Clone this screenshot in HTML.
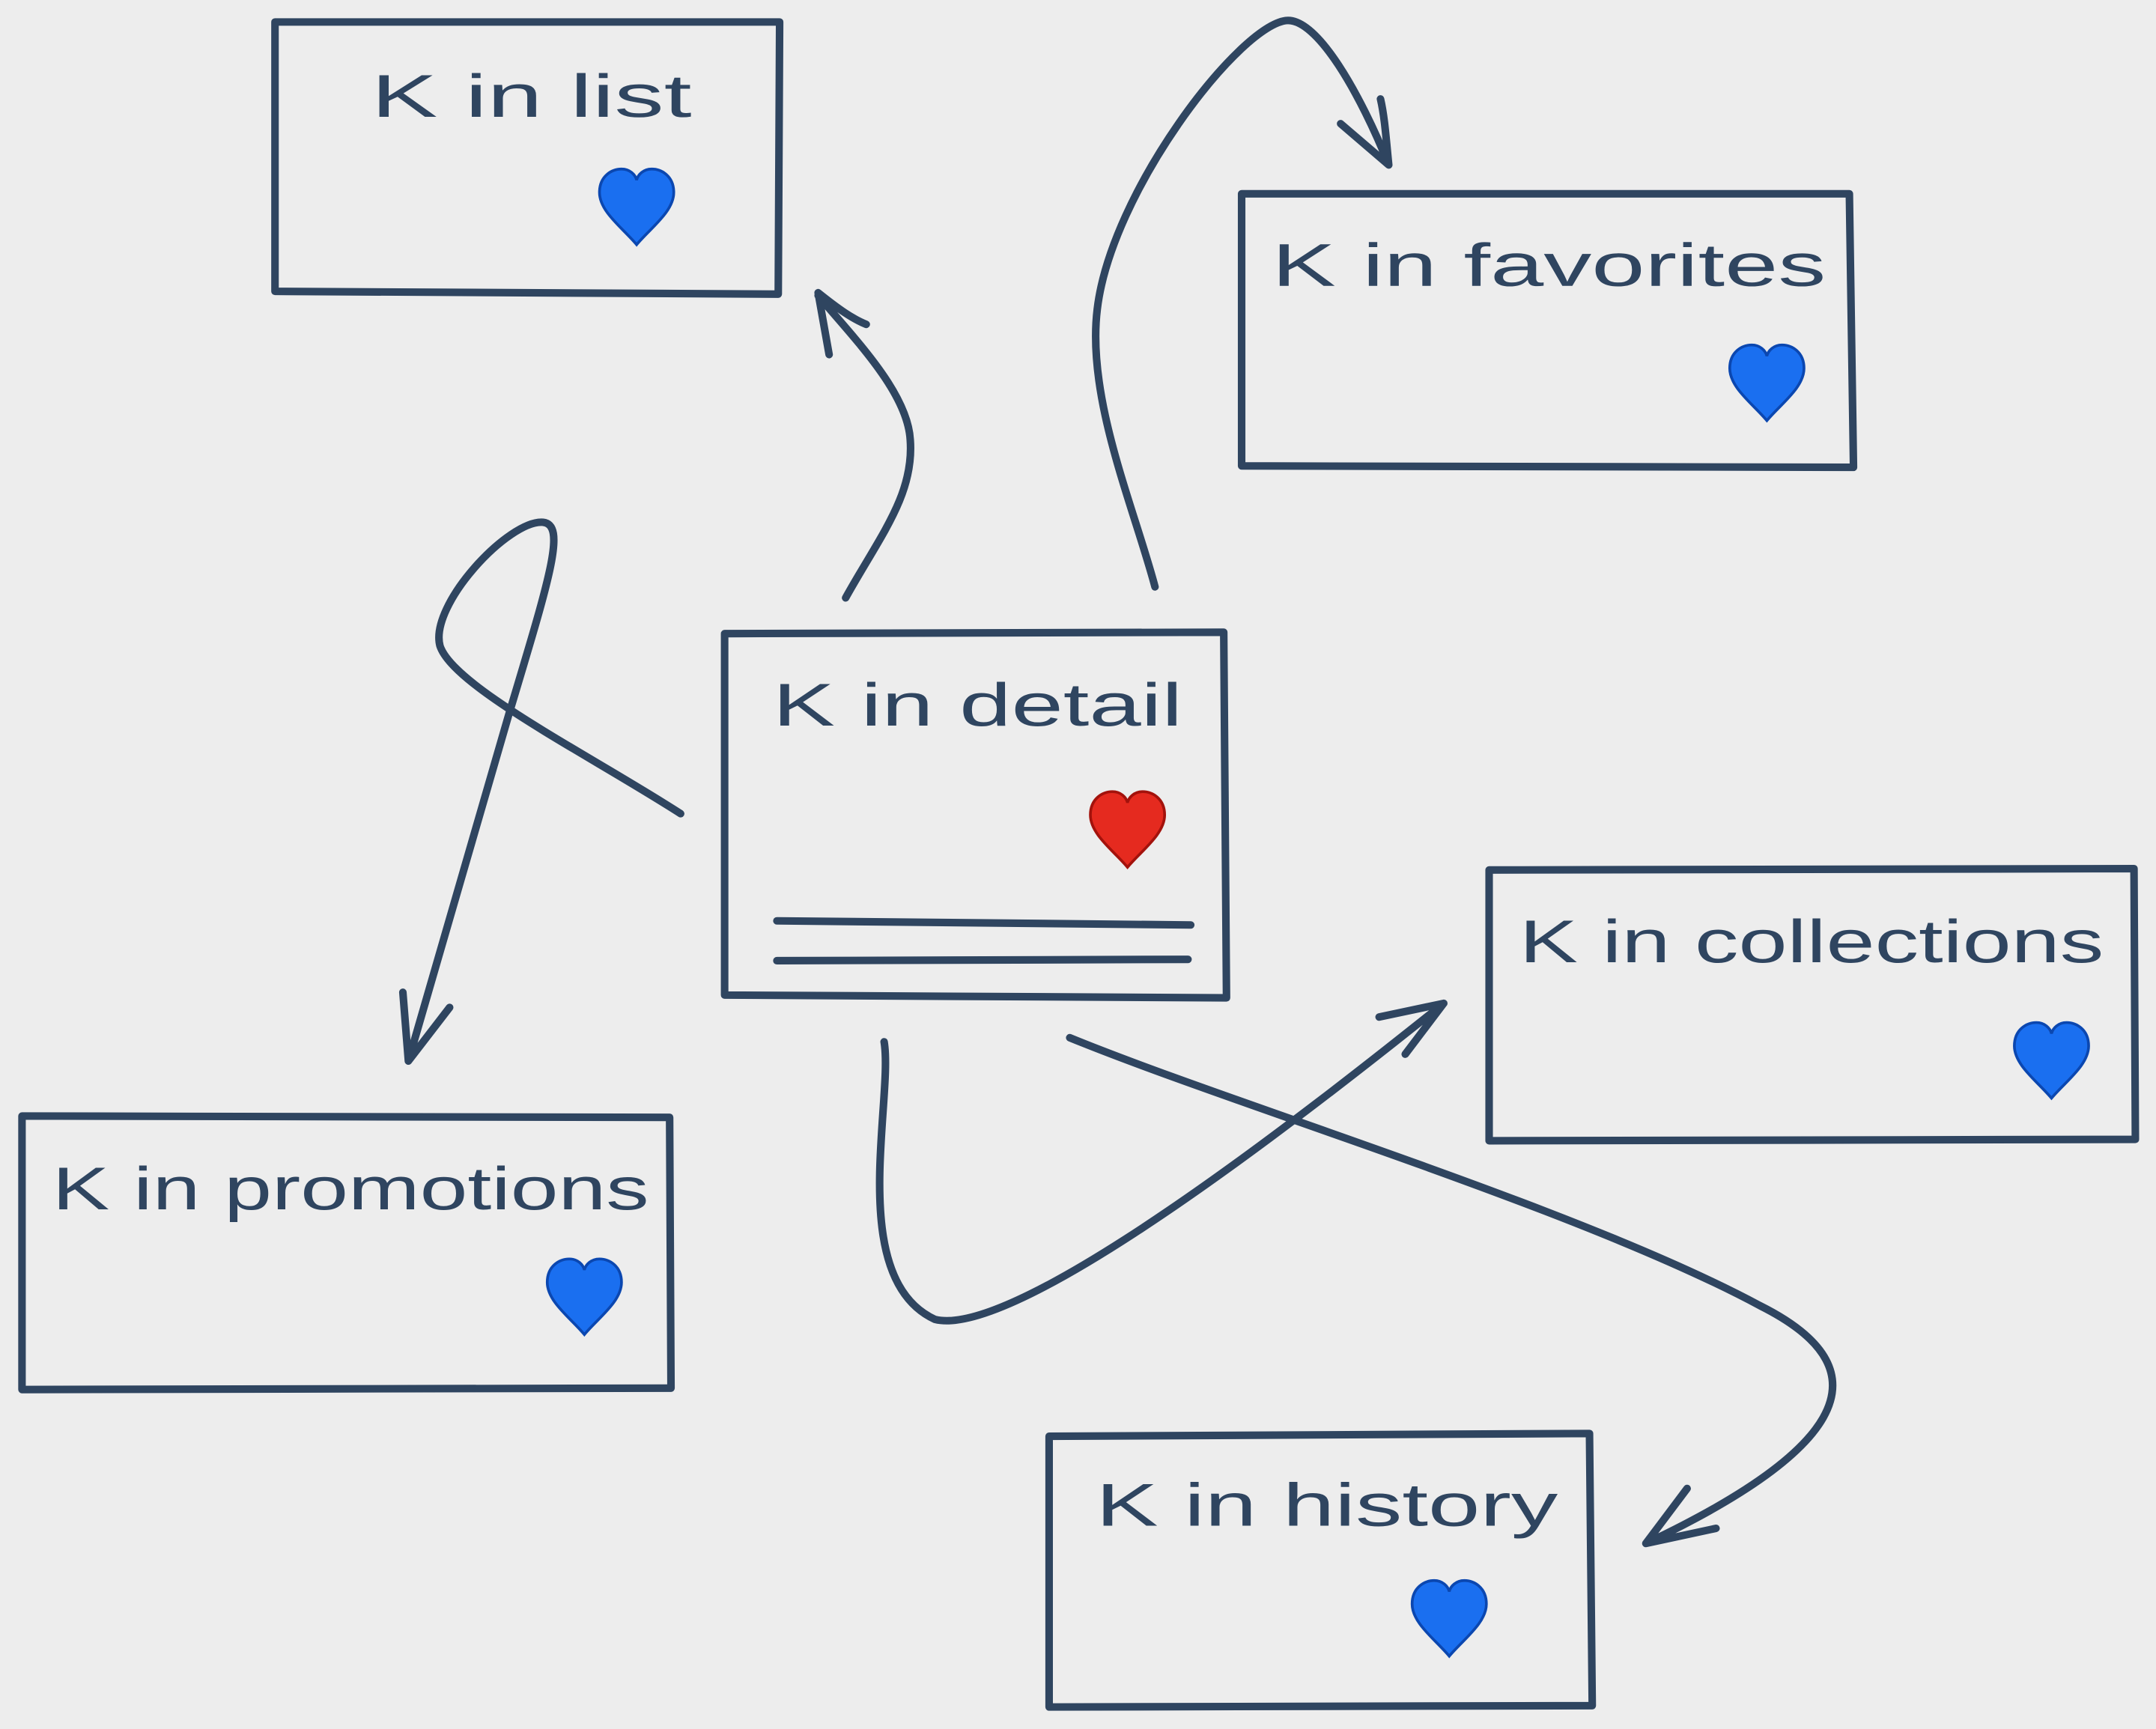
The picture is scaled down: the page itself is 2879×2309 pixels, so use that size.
<!DOCTYPE html>
<html><head><meta charset="utf-8"><style>
html,body{margin:0;padding:0;background:#ededed;}
svg{display:block;}
text{font-family:"Liberation Sans","DejaVu Sans",sans-serif;fill:#2f4560;font-size:44px;}
</style></head><body>
<svg width="2879" height="2309" viewBox="0 0 1568 1258" preserveAspectRatio="none" xmlns="http://www.w3.org/2000/svg">
<defs>
<path id="heart" d="M0,26 C-10,14 -27,2 -27,-12 C-27,-24 -18,-29 -11,-29 C-5,-29 -1,-25 0,-21 C1,-25 5,-29 11,-29 C18,-29 27,-24 27,-12 C27,2 10,14 0,26 Z"/>
</defs>
<rect width="1568" height="1258" fill="#ededed"/>
<g fill="none" stroke="#2f4560" stroke-width="5.5" stroke-linecap="round" stroke-linejoin="round">
<path d="M200,16 L567,16 L566,214 L200,212 Z"/>
<path d="M903,141 L1345,141 L1348,340 L903,339 Z"/>
<path d="M527,461 L890,460 L892,726 L527,724 Z"/>
<path d="M1083,633 L1552,632 L1553,829 L1083,830 Z"/>
<path d="M16,812 L487,813 L488,1010 L16,1011 Z"/>
<path d="M763,1045 L1156,1043 L1158,1241 L763,1242 Z"/>
<path d="M565,670 L866,673 M565,699 L864,698"/>
<path d="M615,435 C640,390 665,360 662,320 C660,285 620,245 595,215 M595,213 L603,258 M595,213 C610,225 620,232 630,236"/>
<path d="M840,427 C825,370 790,290 798,225 C808,140 900,20 935,15 C958,12 990,70 1010,120 M1010,120 L975,90 M1010,120 C1008,100 1007,85 1004,72"/>
<path d="M495,592 C430,550 330,500 320,470 C312,440 370,378 395,380 C412,382 400,420 370,520 L297,772 M297,772 L293,722 M297,772 L327,733"/>
<path d="M643,758 C650,800 615,930 680,960 C740,975 950,810 1050,730 M1050,730 L1003,740 M1050,730 L1022,767"/>
<path d="M778,755 C900,805 1150,880 1280,950 C1380,1000 1330,1060 1197,1123 M1197,1123 L1227,1083 M1197,1123 L1248,1112"/>
</g>
<text x="270" y="85" textLength="233" lengthAdjust="spacingAndGlyphs">K in list</text>
<text x="925" y="208" textLength="403" lengthAdjust="spacingAndGlyphs">K in favorites</text>
<text x="562" y="528" textLength="298" lengthAdjust="spacingAndGlyphs">K in detail</text>
<text x="1105" y="700" textLength="425" lengthAdjust="spacingAndGlyphs">K in collections</text>
<text x="38" y="880" textLength="434" lengthAdjust="spacingAndGlyphs">K in promotions</text>
<text x="797" y="1110" textLength="336" lengthAdjust="spacingAndGlyphs">K in history</text>
<g fill="#1a6ff0" stroke="#0b47b0" stroke-width="2">
<use href="#heart" x="463" y="152"/>
<use href="#heart" x="1285" y="280"/>
<use href="#heart" x="1492" y="773"/>
<use href="#heart" x="425" y="945"/>
<use href="#heart" x="1054" y="1179"/>
</g>
<use href="#heart" x="820" y="605" fill="#e52a1f" stroke="#a3120c" stroke-width="2"/>
</svg>
</body></html>
